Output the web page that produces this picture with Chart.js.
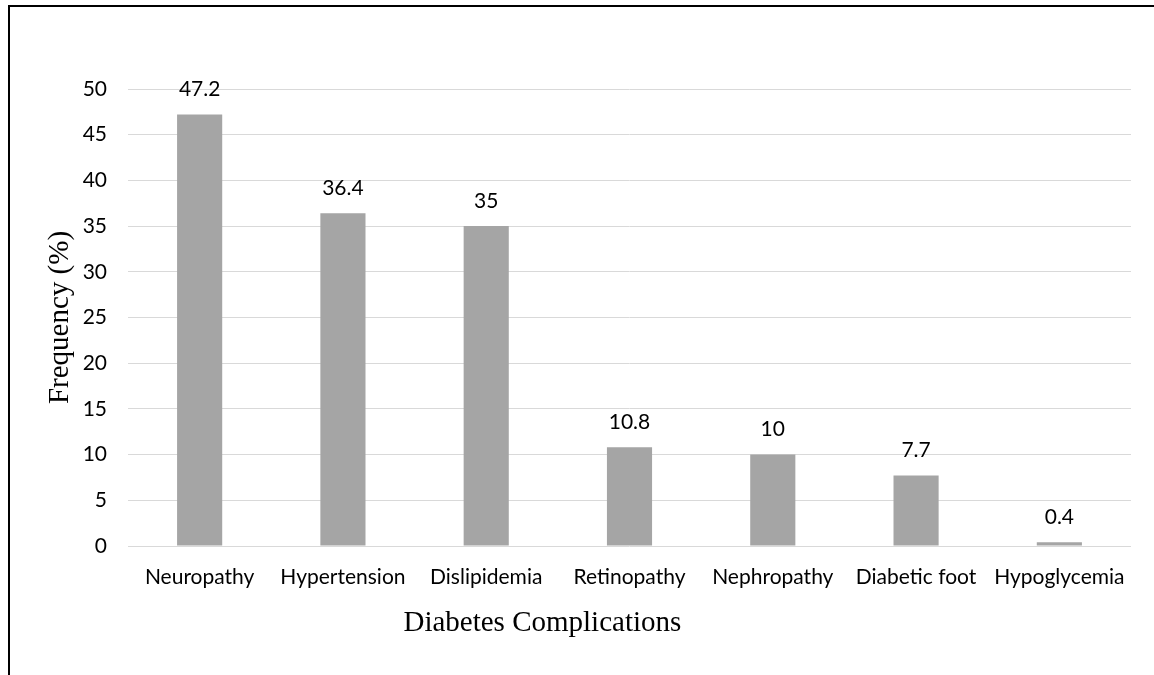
<!DOCTYPE html>
<html>
<head>
<meta charset="utf-8">
<script src="https://cdn.jsdelivr.net/npm/chart.js@4.4.1/dist/chart.umd.min.js"></script>
<style>
  html, body { margin: 0; padding: 0; background: #fff; }
  #wrap { position: relative; width: 1154px; height: 675px; overflow: hidden; }
  #frame { position: absolute; left: 8px; top: 5px; width: 1200px; height: 700px;
           border-left: 2px solid #000; border-top: 2px solid #000; pointer-events: none; }
  canvas { position: absolute; left: 0; top: 0; }
</style>
</head>
<body>
<div id="wrap">
  <canvas id="c" width="1154" height="675"></canvas>
  <div id="frame"></div>
</div>
<script>
// Complications and their frequency (%)
const categories = ['Neuropathy', 'Hypertension', 'Dislipidemia', 'Retinopathy', 'Nephropathy', 'Diabetic foot', 'Hypoglycemia'];
const frequency = [47.2, 36.4, 35, 10.8, 10, 7.7, 0.4];
const yTicks = [0, 5, 10, 15, 20, 25, 30, 35, 40, 45, 50];
const xTitle = 'Diabetes Complications';
const yTitle = 'Frequency (%)';

const sansFont = 'Lato, "Open Sans", sans-serif';
const serifFont = '"Liberation Serif", "Times New Roman", serif';

// value labels above bars and the x axis title
const labelPlugin = {
  id: 'valueLabels',
  afterDatasetsDraw(chart) {
    const ctx = chart.ctx;
    const meta = chart.getDatasetMeta(0);
    ctx.save();
    ctx.fillStyle = '#000';
    ctx.font = '21px ' + sansFont;
    ctx.textAlign = 'center';
    ctx.textBaseline = 'middle';
    meta.data.forEach((bar, i) => {
      ctx.fillText(String(frequency[i]), bar.x, bar.y - 25);
    });
    ctx.font = '29px ' + serifFont;
    ctx.fillText(xTitle, chart.width * 0.47, 623);
    ctx.restore();
  }
};

new Chart(document.getElementById('c'), {
  type: 'bar',
  data: {
    labels: categories,
    datasets: [{
      data: frequency,
      backgroundColor: '#a5a5a5',
      borderWidth: 0,
      barPercentage: 0.315,
      categoryPercentage: 1
    }]
  },
  options: {
    responsive: false,
    animation: false,
    layout: { padding: { top: 89, right: 23, bottom: 0, left: 0 } },
    plugins: { legend: { display: false }, tooltip: { enabled: false } },
    scales: {
      x: {
        grid: { display: false, drawTicks: false },
        border: { display: false },
        ticks: { color: '#000', font: { family: sansFont, size: 21 }, padding: 19, maxRotation: 0, autoSkip: false },
        afterFit(scale) { scale.height = 129; }
      },
      y: {
        min: 0,
        max: 50,
        afterBuildTicks(scale) { scale.ticks = yTicks.map(v => ({ value: v })); },
        grid: { color: '#d9d9d9', lineWidth: 1, drawTicks: false },
        border: { display: false },
        ticks: { color: '#000', font: { family: sansFont, size: 21 }, padding: 21 },
        title: {
          display: true,
          text: yTitle,
          color: '#000',
          font: { family: serifFont, size: 29 },
          padding: { top: 43, bottom: 0 }
        },
        afterFit(scale) { scale.width = 128; }
      }
    }
  },
  plugins: [labelPlugin]
});
</script>
</body>
</html>
